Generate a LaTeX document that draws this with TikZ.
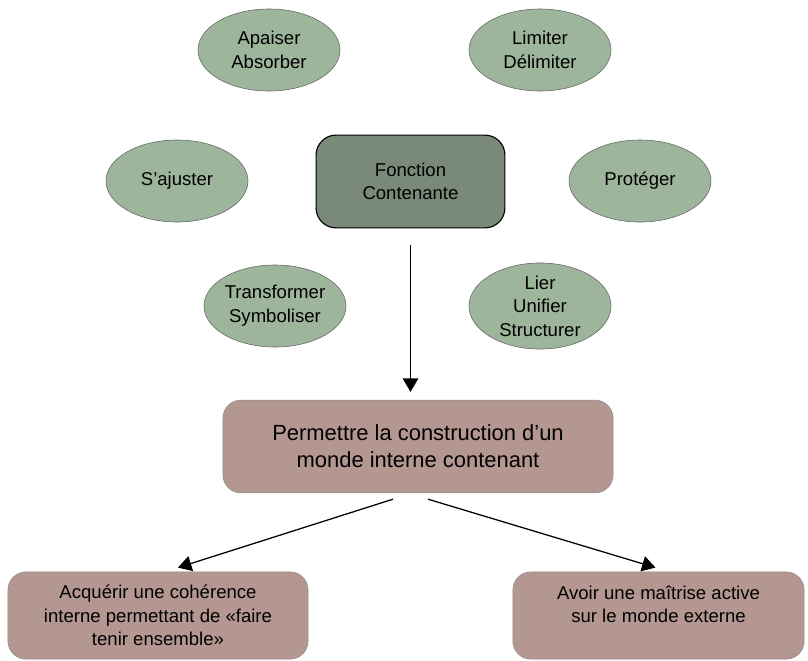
\documentclass[tikz,border=0pt]{standalone}
\usepackage{fontspec}
\setmainfont{Liberation Sans}
\usepackage{xcolor}
\usetikzlibrary{shapes,arrows.meta,positioning,calc}

\definecolor{sage}{HTML}{9DB59B}
\definecolor{darksage}{HTML}{798A79}
\definecolor{rosegray}{HTML}{B59791}

\begin{document}
\begin{tikzpicture}[
    x=0.025cm, y=-0.025cm,
    idea/.style={ellipse, draw=black!60, fill=sage, minimum width=3.55cm, minimum height=2.05cm, inner sep=0pt, align=center, font=\fontsize{13.2}{16.8}\selectfont},
    core/.style={rectangle, draw, thick, rounded corners=0.5cm, fill=darksage, minimum width=4.72cm, minimum height=2.32cm, align=center, font=\fontsize{13.2}{16.8}\selectfont},
    goal/.style={rectangle, draw=black!45, rounded corners=0.45cm, fill=rosegray, align=center, font=\fontsize{13.2}{16.8}\selectfont},
    arrow/.style={-{Triangle[length=9.5pt,width=11pt]}, line width=0.9pt}
]
\useasboundingbox (0,0) rectangle (808,660);

% Central function
\node[core] (fonction) at (410.5,181.5) {Fonction\\Contenante};

% Ellipses around it
\node[idea] (apaiser) at (269,50) {Apaiser\\Absorber};
\node[idea] (limiter) at (540,50) {Limiter\\Délimiter};
\node[idea] (ajuster) at (177,181) {S’ajuster};
\node[idea] (proteger) at (640,181) {Protéger};
\node[idea] (transformer) at (275,306) {Transformer\\Symboliser};
\node[idea] (lier) at (540,306) {Lier\\Unifier\\Structurer};

% Internal world
\node[goal, minimum width=9.75cm, minimum height=2.32cm, font=\fontsize{15.6}{19}\selectfont] (permettre) at (418,446.5) {Permettre la construction d’un\\monde interne contenant};

% Outcomes
\node[goal, minimum width=7.5cm, minimum height=2.18cm] (coherence) at (158,615.5) {Acquérir une cohérence\\interne permettant de «faire\\tenir ensemble»};
\node[goal, minimum width=7.28cm, minimum height=2.18cm, text depth=16pt] (maitrise) at (658.5,615.5) {Avoir une maîtrise active\\sur le monde externe};

% Arrows
\draw[arrow, shorten <=0.42cm, shorten >=0.2cm] (fonction.south) -- (fonction.south |- permettre.north);
\draw[arrow] ($(permettre.south)+(-25,6)$) -- ($(coherence.north)+(20,-4)$);
\draw[arrow] ($(permettre.south)+(10,6)$) -- ($(maitrise.north)+(-3,-4)$);

\end{tikzpicture}
\end{document}
